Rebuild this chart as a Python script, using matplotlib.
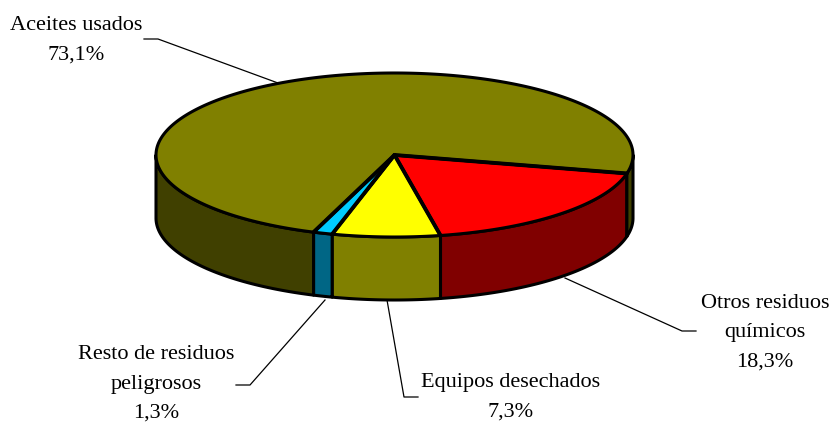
import numpy as np
import matplotlib
matplotlib.use('Agg')
import matplotlib.pyplot as plt

# slice values in drawing order, clockwise from the right
labels = ['Otros residuos\nquímicos\n18,3%', 'Equipos desechados\n7,3%',
          'Resto de residuos\npeligrosos\n1,3%', 'Aceites usados\n73,1%']
values = [18.3, 7.3, 1.3, 73.1]
top_colors = ['#ff0000', '#ffff00', '#00ccff', '#808000']
side_colors = ['#800000', '#808000', '#006685', '#404000']

START_ANGLE = -13.0
CX, CY = 394.5, 155.0
RX, RY = 238.5, 82.0
DEPTH = 63.0

plt.rcParams['font.family'] = ['Liberation Serif', 'DejaVu Serif']

fig = plt.figure(figsize=(8.34, 4.23), dpi=100)
ax = fig.add_axes([0, 0, 1, 1])
ax.set_xlim(0, 834)
ax.set_ylim(423, 0)
ax.axis('off')


def rim(a0, a1, n=120):
    # points on the top ellipse between two angles, y axis points down
    t = np.radians(np.linspace(a0, a1, n))
    return CX + RX * np.cos(t), CY - RY * np.sin(t)


# slice limits from the values
shares = np.array(values) / sum(values) * 360
ends = START_ANGLE - np.cumsum(shares)
starts = np.concatenate([[START_ANGLE], ends[:-1]])

# wall of the pie, only the front half can be seen
for a0, a1, c in zip(starts, ends, side_colors):
    parts = [(a0, a1)]
    if a1 < -180:
        # big slice wraps round the back, so it shows on both sides
        parts = [(a0, -180), (a1 + 360, 0)] if a1 + 360 < 0 else [(a0, -180)]
    for p0, p1 in parts:
        x, y = rim(p0, p1)
        ax.fill(np.r_[x, x[::-1]], np.r_[y, y[::-1] + DEPTH], facecolor=c,
                edgecolor='black', lw=2.2, joinstyle='round', zorder=2)

# top face
for a0, a1, c in zip(starts, ends, top_colors):
    x, y = rim(a0, a1, 300)
    ax.fill(np.r_[CX, x], np.r_[CY, y], facecolor=c, edgecolor='black',
            lw=2.2, joinstyle='round', zorder=3)

# the cuts between slices are drawn heavier than the rim
for a in starts:
    x, y = rim(a, a, 1)
    ax.plot([CX, x[0]], [CY, y[0]], color='black', lw=2.8, zorder=4,
            solid_capstyle='round')

# labels and their leader lines
text_pos = [(765, 333), (511, 397), (156, 384), (76, 40)]
leaders = [[(565, 278), (682, 331), (696, 331)],
           [(387, 300), (404, 397), (418, 397)],
           [(325, 300), (250, 385), (236, 385)],
           [(278, 83), (158, 39), (144, 39)]]
for lab, (tx, ty), pts in zip(labels, text_pos, leaders):
    ax.text(tx, ty, lab, ha='center', va='center', fontsize=16,
            linespacing=1.74, color='black', zorder=5)
    ax.plot(*zip(*pts), color='black', lw=0.9, zorder=1)

fig.savefig('out.png', dpi=100)
